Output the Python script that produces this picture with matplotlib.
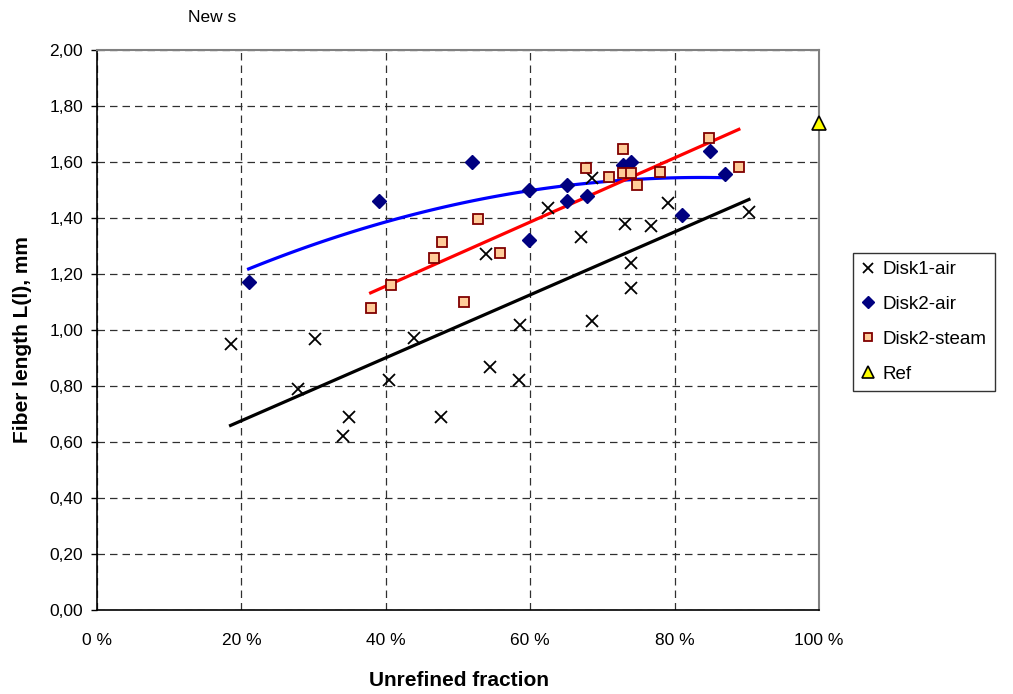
import matplotlib
matplotlib.use("Agg")
import matplotlib.pyplot as plt
import matplotlib.ticker as mtick
import numpy as np

plt.rcParams['font.family'] = ['Liberation Sans', 'DejaVu Sans']

# Disk1-air (x = unrefined fraction in %, y = fiber length mm)
disk1_air_x = [18.5, 27.9, 30.2, 34.1, 34.9, 40.4, 43.9, 47.7, 53.9, 54.4, 58.6,
               58.4, 62.5, 67.1, 68.5, 68.5, 73.1, 73.9, 73.9, 76.8, 79.1, 90.3]
disk1_air_y = [0.949, 0.787, 0.967, 0.620, 0.687, 0.820, 0.969, 0.687, 1.269, 0.868, 1.017,
               0.820, 1.434, 1.332, 1.541, 1.031, 1.378, 1.237, 1.150, 1.370, 1.451, 1.419]

# Disk2-air
disk2_air_x = [21.0, 39.1, 52.0, 59.8, 59.8, 65.1, 65.1, 67.8, 72.9, 73.9, 81.0, 84.9, 87.0]
disk2_air_y = [1.169, 1.461, 1.600, 1.499, 1.320, 1.517, 1.461, 1.478, 1.588, 1.600, 1.411, 1.639, 1.556]

# Disk2-steam
disk2_steam_x = [37.9, 40.7, 46.7, 47.8, 50.9, 52.8, 55.8, 67.7, 70.9, 72.8, 72.8,
                 73.9, 74.8, 78.0, 84.7, 88.9]
disk2_steam_y = [1.079, 1.161, 1.255, 1.314, 1.100, 1.395, 1.275, 1.576, 1.544, 1.644, 1.559,
                 1.559, 1.517, 1.564, 1.684, 1.582]

# reference pulp
ref_x = [100.0]
ref_y = [1.738]

fig = plt.figure(figsize=(10.13, 6.94), dpi=100)
ax = fig.add_axes([97/1013, 1-609.7/694, (819-97)/1013, (609.7-49.7)/694])

# trend lines (least squares, drawn over each series' range)
def trend(x, y, deg):
    c = np.polyfit(x, y, deg)
    xs = np.linspace(min(x), max(x), 100)
    return xs, np.polyval(c, xs)

tx, ty = trend(disk1_air_x, disk1_air_y, 1)
ax.plot(tx, ty, color='black', lw=2.3, zorder=3)
tx, ty = trend(disk2_air_x, disk2_air_y, 2)
ax.plot(tx, ty, color='#0000FF', lw=2.3, zorder=3)
tx, ty = trend(disk2_steam_x, disk2_steam_y, 1)
ax.plot(tx, ty, color='#FF0000', lw=2.3, zorder=3)

ax.plot(disk1_air_x, disk1_air_y, ls='none', marker='x', ms=9, mew=1.3,
        color='black', label='Disk1-air', zorder=4)
ax.plot(disk2_air_x, disk2_air_y, ls='none', marker='D', ms=7, color='#000080',
        mec='#000080', label='Disk2-air', zorder=4)
ax.plot(disk2_steam_x, disk2_steam_y, ls='none', marker='s', ms=7.5, mfc='#FFCC99',
        mec='#800000', mew=1.3, label='Disk2-steam', zorder=4)
ax.plot(ref_x, ref_y, ls='none', marker='^', ms=10, mfc='#FFFF00', mec='black',
        mew=1.2, label='Ref', zorder=5, clip_on=False)

ax.set_xlim(0, 100)
ax.set_ylim(0, 2.0)
ax.set_xticks(np.arange(0, 101, 20))
ax.set_yticks(np.arange(0, 2.01, 0.2))
ax.xaxis.set_major_formatter(mtick.FuncFormatter(lambda v, p: f'{v:.0f} %'))
ax.yaxis.set_major_formatter(mtick.FuncFormatter(lambda v, p: f'{v:.2f}'.replace('.', ',')))
ax.tick_params(axis='x', length=0, pad=17, labelsize=12.5)
ax.tick_params(axis='y', length=4, width=1, pad=6, labelsize=12.5)

ax.grid(True, color='#303030', ls=(0, (6, 4)), lw=0.9)
ax.set_axisbelow(True)
for s in ['top', 'right']:
    ax.spines[s].set_color('#808080')
    ax.spines[s].set_linewidth(1.5)
for s in ['left', 'bottom']:
    ax.spines[s].set_color('black')
    ax.spines[s].set_linewidth(1.2)

fig.text(459/1013, 1-680/694, 'Unrefined fraction', ha='center', va='center',
         fontsize=15, fontweight='bold')
fig.text(23/1013, 1-340/694, 'Fiber length L(l), mm', ha='center', va='center',
         rotation=90, fontsize=15, fontweight='bold')
fig.text(212/1013, 1-18/694, 'New s', ha='center', va='center', fontsize=12.5)

leg = fig.legend(loc='upper left', bbox_to_anchor=(852.5/1013, 1-252.5/694),
                 fontsize=13.5, frameon=True, fancybox=False, edgecolor='black',
                 handlelength=0.7, handletextpad=0.45, labelspacing=0.95,
                 borderpad=0.45, borderaxespad=0, markerscale=0.85)
leg.get_frame().set_linewidth(1.0)

fig.savefig('out.png', dpi=100)
